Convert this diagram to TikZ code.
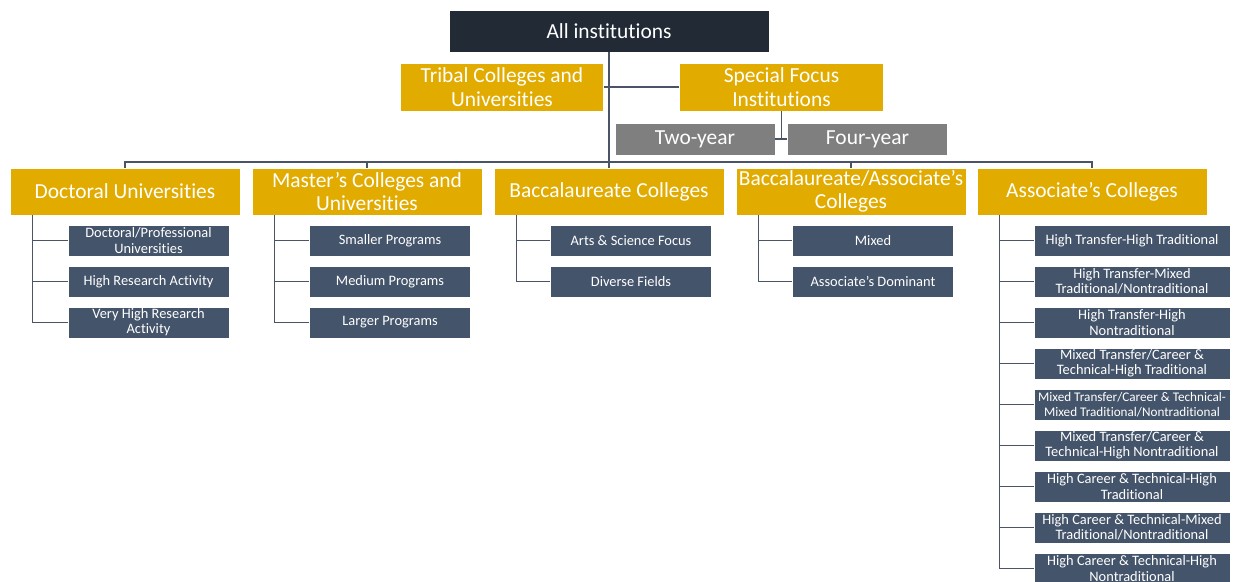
\documentclass[tikz,border=0pt]{standalone}
\usepackage{fontspec}
\setmainfont{Carlito}[Ligatures=NoCommon]
\usepackage{tikz}
\usetikzlibrary{positioning}

\definecolor{topclr}{HTML}{222A35}
\definecolor{goldclr}{HTML}{E1AB00}
\definecolor{grayclr}{HTML}{7F7F7F}
\definecolor{slateclr}{HTML}{44546A}
\definecolor{lineclr}{HTML}{4A5466}

\begin{document}
\begin{tikzpicture}[x=0.02cm, y=-0.02cm,
	box/.style={draw=white, line width=0.4pt, text=white, align=center, inner sep=0pt},
	topbox/.style={box, fill=topclr, minimum width=6.4cm, minimum height=0.84cm, font=\fontsize{12.2}{13.4}\selectfont},
	sidebox/.style={box, fill=goldclr, minimum width=4.07cm, minimum height=0.96cm, font=\fontsize{12.2}{13.4}\selectfont},
	yearbox/.style={box, fill=grayclr, minimum width=3.2cm, minimum height=0.64cm, font=\fontsize{12.2}{13.4}\selectfont},
	groupbox/.style={box, fill=goldclr, minimum width=4.6cm, minimum height=0.94cm, font=\fontsize{12.2}{13}\selectfont},
	subbox/.style={box, fill=slateclr, minimum width=3.22cm, minimum height=0.62cm, font=\fontsize{8.2}{8.6}\selectfont},
	widebox/.style={subbox, minimum width=3.92cm},
	link/.style={draw=lineclr, line width=0.8pt}]

	\useasboundingbox (0,0) rectangle (1236,581);

	% Top
	\node[topbox] (all) at (609,31) {All institutions};
	\node[sidebox] (tribal) at (502,87) {Tribal Colleges and\\Universities};
	\node[sidebox] (special) at (781.5,87) {Special Focus\\Institutions};
	\node[yearbox] (two) at (695,139) {Two-year};
	\node[yearbox] (four) at (867.5,139) {Four-year};
	\coordinate (bus) at (609,162);

	% Groups
	\node[groupbox] (doc) at (125,191.5) {Doctoral Universities};
	\node[groupbox] (mast) at (367,191.5) {Master’s Colleges and\\Universities};
	\node[groupbox] (bacc) at (609,191.5) {Baccalaureate Colleges};
	\node[groupbox] (bacas) at (851,191.5) {Baccalaureate/Associate’s\\Colleges};
	\node[groupbox] (assoc) at (1092,191.5) {Associate’s Colleges};

	% Doctoral
	\node[subbox] (doc1) at (148.5,240.5) {Doctoral/Professional\\Universities};
	\node[subbox] (doc2) at (148.5,281.5) {High Research Activity};
	\node[subbox] (doc3) at (148.5,322.5) {Very High Research\\Activity};

	% Master's
	\node[subbox] (mast1) at (390,240.5) {Smaller Programs};
	\node[subbox] (mast2) at (390,281.5) {Medium Programs};
	\node[subbox] (mast3) at (390,322.5) {Larger Programs};

	% Baccalaureate
	\node[subbox] (bacc1) at (631,240.5) {Arts \& Science Focus};
	\node[subbox] (bacc2) at (631,281.5) {Diverse Fields};

	% Baccalaureate/Associate's
	\node[subbox] (bacas1) at (873,240.5) {Mixed};
	\node[subbox] (bacas2) at (873,281.5) {Associate’s Dominant};

	% Associate's
	\node[widebox] (assoc1) at (1132,240.5) {High Transfer-High Traditional};
	\node[widebox] (assoc2) at (1132,281.5) {High Transfer-Mixed\\Traditional/Nontraditional};
	\node[widebox] (assoc3) at (1132,322.5) {High Transfer-High\\Nontraditional};
	\node[widebox] (assoc4) at (1132,363.5) {Mixed Transfer/Career \&\\Technical-High Traditional};
	\node[widebox, font=\fontsize{7.5}{8.2}\selectfont] (assoc5) at (1132,404.5) {Mixed Transfer/Career \& Technical-\\Mixed Traditional/Nontraditional};
	\node[widebox] (assoc6) at (1132,445.5) {Mixed Transfer/Career \&\\Technical-High Nontraditional};
	\node[widebox] (assoc7) at (1132,486.5) {High Career \& Technical-High\\Traditional};
	\node[widebox] (assoc8) at (1132,527.5) {High Career \& Technical-Mixed\\Traditional/Nontraditional};
	\node[widebox] (assoc9) at (1132,568.5) {High Career \& Technical-High\\Nontraditional};

	% Links top
	\draw[link] (all.south) -- (bacc.north);
	\draw[link] (tribal.east) -- (special.west);
	\draw[link] (two.east) -- (four.west);
	\draw[link] (special.south) -- (special.south |- two.east);
	\draw[link] (doc.north) |- (bus) -| (assoc.north);
	\draw[link] (mast.north) |- (bus);
	\draw[link] (bacas.north) |- (bus);

	% Links groups
	\draw[link] ([xshift=0.46cm]doc.south west) |- (doc3.west);
	\draw[link] ([xshift=0.46cm]doc.south west) |- (doc1.west);
	\draw[link] ([xshift=0.46cm]doc.south west) |- (doc2.west);
	\draw[link] ([xshift=0.46cm]mast.south west) |- (mast3.west);
	\draw[link] ([xshift=0.46cm]mast.south west) |- (mast1.west);
	\draw[link] ([xshift=0.46cm]mast.south west) |- (mast2.west);
	\draw[link] ([xshift=0.46cm]bacc.south west) |- (bacc2.west);
	\draw[link] ([xshift=0.46cm]bacc.south west) |- (bacc1.west);
	\draw[link] ([xshift=0.46cm]bacas.south west) |- (bacas2.west);
	\draw[link] ([xshift=0.46cm]bacas.south west) |- (bacas1.west);
	\foreach \i in {1,...,9}
		\draw[link] ([xshift=0.46cm]assoc.south west) |- (assoc\i.west);
\end{tikzpicture}
\end{document}
